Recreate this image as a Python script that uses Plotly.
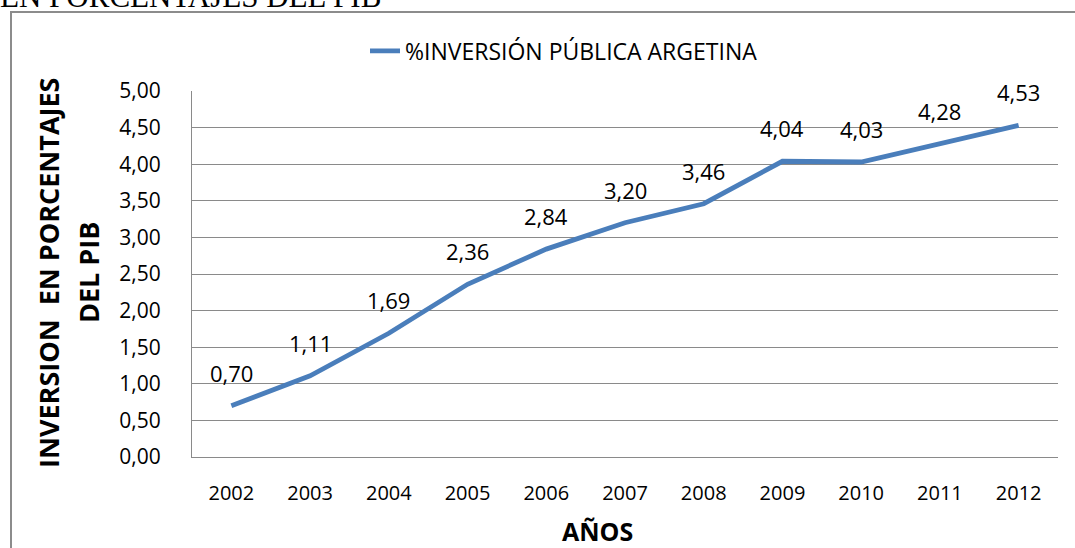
import plotly.graph_objects as go

years = ["2002", "2003", "2004", "2005", "2006", "2007", "2008", "2009", "2010", "2011", "2012"]
values = [0.70, 1.11, 1.69, 2.36, 2.84, 3.20, 3.46, 4.04, 4.03, 4.28, 4.53]
series_name = "%INVERSIÓN PÚBLICA ARGETINA"
y_ticks = [0, 0.5, 1, 1.5, 2, 2.5, 3, 3.5, 4, 4.5, 5]
y_tick_text = ["0,00", "0,50", "1,00", "1,50", "2,00", "2,50", "3,00", "3,50", "4,00", "4,50", "5,00"]

W, H = 1075, 548
L, R, T, B = 192, 17, 91, 91
PW, PH = W - L - R, H - T - B

def px_x(x):
    return (x - L) / PW

def px_y(y):
    return (H - B - y) / PH

FONT = "Open Sans"
BLUE = "#4a7ebb"
GRID = "#8a8a8a"

fig = go.Figure()
fig.add_trace(go.Scatter(
    x=years, y=values, mode="lines", name=series_name,
    line=dict(color=BLUE, width=4.8),
    showlegend=True,
))

annotations = []
for i, v in enumerate(values):
    annotations.append(dict(
        x=i, y=v, xref="x", yref="y", text=f"{v:.2f}".replace(".", ","),
        showarrow=False, yshift=33, yanchor="middle",
        font=dict(family=FONT, size=22, color="#000"),
    ))

annotations.append(dict(
    x=px_x(48), y=px_y(273), xref="paper", yref="paper",
    text="<b>INVERSION  EN PORCENTAJES</b>", textangle=-90, showarrow=False,
    xanchor="center", yanchor="middle",
    font=dict(family=FONT, size=27, color="#000"),
))
annotations.append(dict(
    x=px_x(88), y=px_y(273), xref="paper", yref="paper",
    text="<b>DEL PIB</b>", textangle=-90, showarrow=False,
    xanchor="center", yanchor="middle",
    font=dict(family=FONT, size=27, color="#000"),
))
annotations.append(dict(
    x=px_x(597), y=px_y(531), xref="paper", yref="paper",
    text="<b>AÑOS</b>", showarrow=False,
    xanchor="center", yanchor="middle",
    font=dict(family=FONT, size=25, color="#000"),
))
annotations.append(dict(
    x=px_x(-2), y=px_y(16), xref="paper", yref="paper",
    text="EN PORCENTAJES DEL PIB", showarrow=False,
    xanchor="left", yanchor="bottom",
    font=dict(family="Liberation Serif", size=31, color="#000"),
))

fig.update_layout(
    width=W, height=H,
    margin=dict(l=L, r=R, t=T, b=B, autoexpand=False),
    paper_bgcolor="white", plot_bgcolor="white",
    font=dict(family=FONT, size=20, color="#000"),
    separators=",.",
    showlegend=True,
    legend=dict(
        orientation="h", x=px_x(365), y=px_y(51), xanchor="left", yanchor="middle",
        font=dict(family=FONT, size=23, color="#000"), bgcolor="rgba(0,0,0,0)",
    ),
    annotations=annotations,
    shapes=[dict(
        type="rect", xref="paper", yref="paper",
        x0=px_x(11), x1=px_x(1085), y0=px_y(560), y1=px_y(12),
        line=dict(color="#8c8c8c", width=2), layer="below",
    )],
)
fig.update_xaxes(
    type="category", range=[-0.5, 10.5], showgrid=False, zeroline=False,
    showline=True, linecolor=GRID, linewidth=1, ticks="",
    tickfont=dict(family=FONT, size=20), ticklabelstandoff=18,
)
fig.update_yaxes(
    range=[0, 5], tickvals=y_ticks, ticktext=y_tick_text,
    showgrid=True, gridcolor=GRID, gridwidth=1, zeroline=False,
    showline=True, linecolor=GRID, linewidth=1, ticks="",
    tickfont=dict(family=FONT, size=21), ticklabelstandoff=26,
)

fig.write_html("out.html", config={"displayModeBar": False},
               post_script="document.body.style.margin='0';")
